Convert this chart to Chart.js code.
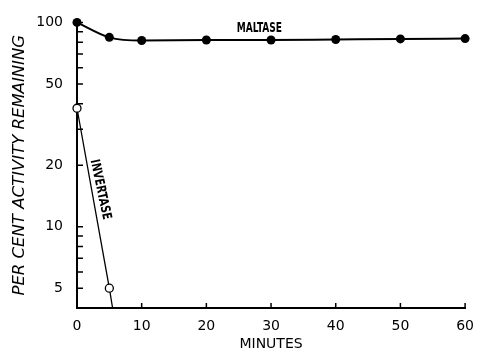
<!DOCTYPE html>
<html>
<head>
<meta charset="utf-8">
<script src="https://cdn.jsdelivr.net/npm/chart.js@4/dist/chart.umd.min.js"></script>
<style>
  body { margin: 0; background: #fff; }
  canvas { display: block; }
</style>
</head>
<body>
<canvas id="chart" width="484" height="351"></canvas>
<script>
// --- Data ---
const minutes = [0, 5, 10, 20, 30, 40, 50, 60];
const maltase = [100, 84.5, 81.5, 82, 82, 82.5, 83, 83.3];
const invertaseMinutes = [0, 5, 5.5];
const invertase = [38, 5, 4];
const yTickValues = [5, 6, 7, 8, 9, 10, 20, 30, 40, 50, 60, 70, 80, 90, 100];
const yTickLabels = [5, 10, 20, 50, 100];

// narrow hand-lettered look for the curve labels
function drawLabel(ctx, text, x, y, size, angle, squeeze) {
  ctx.save();
  ctx.translate(x, y);
  ctx.rotate(angle * Math.PI / 180);
  ctx.scale(squeeze, 1);
  ctx.font = "bold " + size + "px 'DejaVu Sans Condensed', sans-serif";
  ctx.textAlign = "center";
  ctx.textBaseline = "middle";
  ctx.fillStyle = "#000";
  ctx.fillText(text, 0, 0);
  ctx.restore();
}

// --- Inward tick marks + curve labels ---
const inwardTicks = {
  id: "inwardTicks",
  beforeDatasetsDraw(chart) {
    const { ctx, chartArea, scales } = chart;
    ctx.save();
    ctx.strokeStyle = "#000";
    ctx.lineWidth = 1.5;
    ctx.beginPath();
    scales.y.ticks.forEach(t => {
      const py = scales.y.getPixelForValue(t.value);
      ctx.moveTo(chartArea.left, py);
      ctx.lineTo(chartArea.left + 6, py);
    });
    scales.x.ticks.forEach(t => {
      if (t.value === 0) return;
      const px = scales.x.getPixelForValue(t.value);
      ctx.moveTo(px, chartArea.bottom);
      ctx.lineTo(px, chartArea.bottom - 5);
    });
    ctx.stroke();
    ctx.restore();
  },
  afterDatasetsDraw(chart) {
    const { ctx, scales } = chart;
    drawLabel(ctx, "MALTASE", scales.x.getPixelForValue(28.2), scales.y.getPixelForValue(93), 14, 0, 0.72);
    drawLabel(ctx, "INVERTASE", scales.x.getPixelForValue(3.6), scales.y.getPixelForValue(15.2), 13, 78, 0.85);
  }
};

const ctx = document.getElementById("chart").getContext("2d");
new Chart(ctx, {
  type: "line",
  data: {
    datasets: [
      {
        label: "Maltase",
        data: minutes.map((m, i) => ({ x: m, y: maltase[i] })),
        borderColor: "#000",
        borderWidth: 2,
        backgroundColor: "#000",
        pointRadius: 4.5,
        pointBorderWidth: 0,
        cubicInterpolationMode: "monotone",
        clip: false
      },
      {
        label: "Invertase",
        data: invertaseMinutes.map((m, i) => ({ x: m, y: invertase[i] })),
        borderColor: "#000",
        borderWidth: 1.3,
        backgroundColor: "#fff",
        pointBorderColor: "#000",
        pointBorderWidth: 1.3,
        pointRadius: [4, 4, 0],
        tension: 0,
        clip: false
      }
    ]
  },
  options: {
    responsive: false,
    animation: false,
    layout: { padding: { left: 0, right: 14, top: 21, bottom: 0 } },
    plugins: {
      legend: { display: false },
      tooltip: { enabled: false }
    },
    scales: {
      x: {
        type: "linear",
        min: 0,
        max: 60,
        afterFit: s => { s.height = 43; },
        grid: { drawOnChartArea: false, drawTicks: false },
        border: { display: true, color: "#000", width: 2 },
        ticks: {
          stepSize: 10,
          padding: 10,
          color: "#000",
          font: { family: "'DejaVu Sans', sans-serif", size: 14 }
        },
        title: {
          display: true,
          text: "MINUTES",
          color: "#000",
          padding: { top: 0, bottom: -2 },
          font: { family: "'DejaVu Sans', sans-serif", size: 14 }
        }
      },
      y: {
        type: "logarithmic",
        min: 4,
        max: 100,
        afterFit: s => { s.width = 77; },
        afterBuildTicks: s => { s.ticks = yTickValues.map(v => ({ value: v })); },
        grid: { drawOnChartArea: false, drawTicks: false },
        border: { display: true, color: "#000", width: 2 },
        ticks: {
          autoSkip: false,
          padding: 14,
          color: "#000",
          font: { family: "'DejaVu Sans', sans-serif", size: 14 },
          callback: v => yTickLabels.includes(v) ? String(v) : ""
        },
        title: {
          display: true,
          text: "PER CENT ACTIVITY REMAINING",
          color: "#000",
          padding: { top: 10, bottom: 0 },
          font: { family: "'DejaVu Sans', sans-serif", size: 16.5, style: "italic" }
        }
      }
    }
  },
  plugins: [inwardTicks]
});
</script>
</body>
</html>
